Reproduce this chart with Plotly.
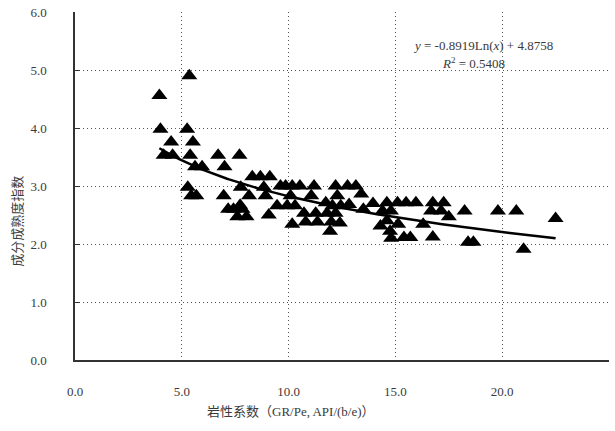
import numpy as np
import plotly.graph_objects as go

# Lithology coefficient (x) and maturity index (y)
x_vals = [3.95, 4.0, 5.35, 5.25, 4.5, 5.52, 4.15, 4.57, 5.39, 6.7, 7.7, 5.62, 5.95, 7.0,
          8.3, 8.68, 9.12, 5.28, 7.76, 8.84, 5.44, 5.68, 6.96, 8.15, 8.92,
          7.17, 7.42, 7.73, 7.84, 7.6, 8.03, 9.07,
          9.62, 9.86, 10.17, 10.53, 11.19, 12.2, 12.76, 13.15,
          10.09, 11.06, 12.28, 13.4,
          9.46, 9.93, 10.3, 11.74, 12.05, 12.44, 12.83, 13.5, 13.95,
          10.72, 11.27, 11.8, 12.2,
          10.8, 11.35, 12.0, 12.4, 10.17, 11.94, 14.3,
          14.6, 15.1, 15.5, 15.96, 16.75, 17.26,
          18.24, 19.8, 20.66, 22.5,
          14.4, 14.79, 16.67, 17.14,
          14.6, 15.13, 16.3, 17.5,
          14.75, 14.8, 15.4, 15.7, 16.75,
          18.4, 18.65, 21.0]
y_vals = [4.56, 3.98, 4.9, 3.98, 3.76, 3.76, 3.53, 3.53, 3.53, 3.53, 3.53, 3.33, 3.33, 3.33,
          3.16, 3.16, 3.16, 2.98, 2.98, 2.98, 2.83, 2.83, 2.83, 2.83, 2.83,
          2.6, 2.6, 2.67, 2.6, 2.47, 2.47, 2.5,
          3.0, 3.0, 3.0, 3.0, 3.0, 3.0, 3.0, 3.0,
          2.83, 2.83, 2.83, 2.86,
          2.66, 2.66, 2.66, 2.71, 2.66, 2.66, 2.68, 2.6, 2.7,
          2.53, 2.53, 2.53, 2.53,
          2.38, 2.38, 2.38, 2.36, 2.34, 2.22, 2.31,
          2.71, 2.71, 2.71, 2.71, 2.71, 2.71,
          2.57, 2.57, 2.57, 2.44,
          2.57, 2.57, 2.57, 2.57,
          2.4, 2.34, 2.34, 2.47,
          2.22, 2.1, 2.11, 2.11, 2.12,
          2.03, 2.03, 1.91]

coef_a = -0.8919
coef_b = 4.8758
r2 = 0.5408

x_ticks = [0, 5, 10, 15, 20, 25]
y_ticks = [0, 1, 2, 3, 4, 5, 6]

tx = np.linspace(min(x_vals), max(x_vals), 200)
ty = coef_a * np.log(tx) + coef_b

SERIF = "Liberation Serif, Times New Roman, serif"
CJK = "Liberation Serif, Noto Sans CJK SC, serif"
TXT = "#3a3a3a"

fig = go.Figure()
fig.add_trace(go.Scatter(x=x_vals, y=y_vals, mode="markers",
                         marker=dict(symbol="triangle-up", size=14, color="black",
                                     line=dict(width=0)),
                         showlegend=False))
fig.add_trace(go.Scatter(x=tx, y=ty, mode="lines",
                         line=dict(color="black", width=2.5), showlegend=False))
fig.add_trace(go.Scatter(x=[None], y=[None], xaxis="x2", yaxis="y2", showlegend=False))

fig.update_layout(
    width=615, height=431,
    margin=dict(l=75, r=6, t=12, b=71),
    plot_bgcolor="white", paper_bgcolor="white",
    xaxis=dict(range=[0, 25], tickvals=x_ticks, ticktext=[f"{v:.1f}" for v in x_ticks],
               showgrid=False, zeroline=False, showline=True, linecolor="#333",
               linewidth=1.5, ticks="", ticklabelstandoff=19,
               tickfont=dict(family=SERIF, size=13, color=TXT)),
    yaxis=dict(range=[0, 6], tickvals=y_ticks, ticktext=[f"{v:.1f}" for v in y_ticks],
               showgrid=False, zeroline=False, showline=True, linecolor="#333",
               linewidth=1.5, ticks="inside", ticklen=5, tickcolor="#333",
               ticklabelstandoff=24,
               tickfont=dict(family=SERIF, size=13, color=TXT)),
    xaxis2=dict(range=[0, 25], overlaying="x", tickvals=[5, 10, 15, 20],
                showticklabels=False, showgrid=True, gridcolor="#555",
                griddash="1px,3px", gridwidth=1.2, zeroline=False, showline=False),
    yaxis2=dict(range=[0, 6], overlaying="y", tickvals=[1, 2, 3, 4, 5],
                showticklabels=False, showgrid=True, gridcolor="#555",
                griddash="1px,3px", gridwidth=1.2, zeroline=False, showline=False),
    annotations=[
        dict(text="成分成熟度指数", xref="paper", yref="paper", x=-0.107, y=0.40,
             xanchor="center", yanchor="middle",
             textangle=-90, showarrow=False, font=dict(family=CJK, size=13, color=TXT)),
        dict(text="岩性系数（GR/Pe, API/(b/e)）", xref="paper", yref="paper",
             x=0.404, y=-0.147, xanchor="center", yanchor="middle", showarrow=False,
             font=dict(family=CJK, size=13, color=TXT)),
        dict(text=f"<i>y</i> = {coef_a}Ln(<i>x</i>) + {coef_b}", xref="paper", yref="paper",
             x=0.764, y=0.905, xanchor="center", yanchor="middle", showarrow=False,
             font=dict(family=SERIF, size=13, color=TXT)),
        dict(text=f"<i>R</i><sup>2</sup> = {r2}", xref="paper", yref="paper",
             x=0.747, y=0.853, xanchor="center", yanchor="middle", showarrow=False,
             font=dict(family=SERIF, size=13, color=TXT)),
    ],
)
fig.write_html("out.html")
